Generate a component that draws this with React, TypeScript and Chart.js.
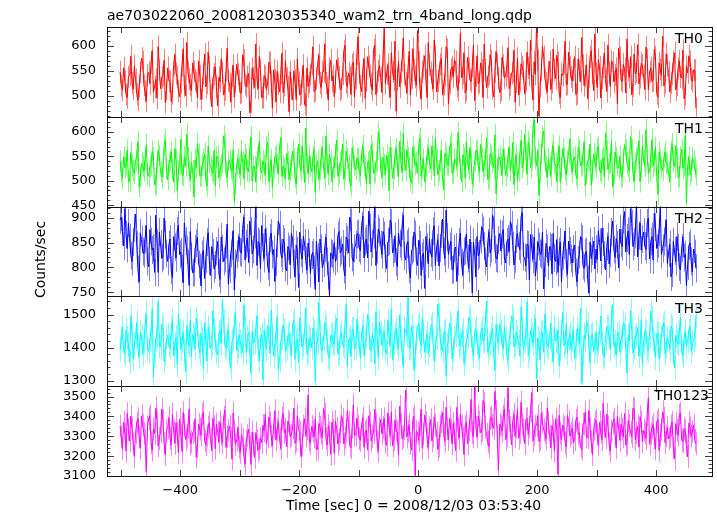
import React, { useEffect, useRef } from "react";
import { Chart, registerables } from "chart.js";

Chart.register(...registerables);

const TITLE = "ae703022060_20081203035340_wam2_trn_4band_long.qdp";
const X_TITLE = "Time [sec] 0 = 2008/12/03 03:53:40";
const Y_TITLE = "Counts/sec";
const FONT = "'DejaVu Sans', sans-serif";

const TIME_START = -501;
const TIME_END = 467;
const X_MIN = -523;
const X_MAX = 494;
const X_LABEL_TICKS = [-400, -200, 0, 200, 400];
const X_MINOR_STEP = 100;

const bandNames = ["TH0", "TH1", "TH2", "TH3", "TH0123"];

// samples on the whole-step grid
const th0 = [
  548, 512, 530, 497, 541, 526, 560, 503, 519, 575,
  522, 490, 547, 566, 508, 533, 598, 515, 541, 487,
  556, 529, 505, 582, 538, 499, 561, 520, 606, 534,
  511, 549, 527, 570, 493, 544, 518, 587, 502, 536,
  558, 481, 529, 547, 512, 595, 524, 540, 498, 563,
  530, 507, 571, 519, 545, 488, 536, 603, 515, 552,
  497, 538, 524, 566, 476, 532, 549, 508, 585, 521,
  535, 469, 514, 550, 493, 527, 505, 561, 480, 519,
  542, 598, 511, 563, 526, 548, 604, 517, 555, 530,
  499, 572, 538, 515, 589, 527, 546, 503, 567, 535,
  618, 521, 553, 496, 578, 540, 512, 601, 529, 561,
  507, 636, 544, 519, 586, 532, 470, 569, 548, 615,
  526, 557, 502, 594, 538, 630, 515, 548, 580, 497,
  562, 531, 611, 508, 547, 575, 523, 598, 484, 553,
  539, 568, 512, 624, 545, 506, 577, 533, 559, 491,
  580, 528, 551, 603, 517, 544, 570, 499, 589, 536,
  512, 561, 540, 596, 523, 549, 488, 575, 531, 558,
  504, 587, 542, 520, 568, 637, 460, 552, 579, 526,
  548, 513, 593, 535, 566, 497, 541, 609, 524, 557,
  530, 578, 505, 549, 616, 521, 562, 538, 590, 511,
  545, 572, 496, 558, 533, 601, 519, 567, 542, 485,
  576, 529, 554, 613, 537, 503, 583, 548, 524, 565,
  540, 597, 512, 556, 531, 578, 498, 553, 619, 527,
  561, 508, 544, 586, 522, 570, 536, 495, 559, 580,
  534, 552, 476,
];
// samples on the half-step grid
const th0b = [
  521, 556, 503, 538, 579, 514, 533, 492, 547, 568,
  509, 541, 525, 590, 518, 496, 552, 537, 571, 513,
  530, 489, 563, 545, 510, 527, 594, 501, 548, 522,
  566, 532, 497, 540, 515, 583, 526, 558, 479, 543,
  519, 537, 573, 502, 551, 530, 488, 561, 528, 544,
  506, 582, 523, 539, 467, 555, 517, 534, 578, 497,
  541, 513, 567, 529, 552, 488, 524, 545, 507, 570,
  518, 548, 493, 531, 574, 502, 539, 484, 556, 527,
  563, 509, 535, 581, 517, 549, 526, 492, 571, 540,
  528, 555, 512, 544, 601, 519, 537, 562, 498, 583,
  546, 509, 574, 531, 559, 524, 592, 503, 550, 537,
  581, 525, 562, 497, 548, 609, 534, 518, 571, 543,
  506, 589, 536, 552, 521, 567, 495, 559, 532, 606,
  547, 514, 579, 530, 563, 502, 541, 592, 526, 558,
  571, 519, 548, 536, 586, 511, 553, 529, 601, 540,
  524, 566, 497, 552, 539, 582, 515, 548, 563, 507,
  577, 536, 558, 515, 545, 591, 528, 502, 564, 549,
  531, 556, 611, 492, 543, 572, 519, 598, 535, 508,
  569, 527, 552, 581, 506, 544, 565, 522, 587, 538,
  552, 503, 574, 529, 561, 540, 495, 578, 546, 623,
  517, 558, 536, 586, 509, 547, 570, 528, 555, 595,
  532, 563, 506, 551, 578, 520, 544, 602, 537, 561,
  513, 572, 548, 529, 593, 505, 566, 541, 520, 584,
  547, 526, 569, 512, 555, 538, 591, 503, 546, 568,
  529, 551,
];

const th1 = [
  540, 505, 527, 563, 498, 531, 515, 552, 488, 536,
  520, 574, 509, 533, 547, 495, 562, 518, 529, 583,
  502, 541, 524, 566, 480, 535, 512, 549, 596, 521,
  538, 467, 527, 555, 510, 544, 501, 571, 530, 516,
  489, 550, 523, 537, 575, 506, 542, 519, 458, 533,
  527, 561, 504, 545, 518, 590, 530, 497, 552, 523,
  541, 512, 579, 528, 486, 548, 534, 569, 509, 525,
  556, 502, 531, 544, 493, 575, 520, 537, 608, 514,
  530, 549, 476, 541, 523, 568, 505, 535, 554, 498,
  527, 583, 516, 540, 503, 561, 532, 489, 550, 522,
  545, 510, 572, 528, 537, 493, 559, 518, 541, 584,
  507, 533, 552, 479, 546, 524, 566, 511, 538, 597,
  521, 548, 502, 569, 533, 515, 587, 526, 498, 553,
  539, 571, 510, 544, 520, 563, 482, 549, 531, 577,
  516, 542, 599, 525, 553, 505, 535, 568, 493, 540,
  562, 518, 546, 530, 588, 507, 551, 527, 473, 544,
  532, 565, 511, 548, 520, 579, 536, 501, 557, 526,
  595, 513, 568, 542, 624, 531, 470, 556, 602, 528,
  545, 511, 573, 534, 552, 497, 566, 522, 540, 586,
  518, 549, 504, 561, 533, 580, 514, 543, 491, 555,
  529, 570, 516, 547, 598, 523, 538, 487, 559, 531,
  550, 508, 574, 536, 519, 563, 499, 545, 582, 527,
  541, 605, 515, 552, 530, 568, 472, 543, 521, 559,
  535, 498, 576, 528, 547, 509, 564, 532, 455, 549,
  520, 541, 512,
];
const th1b = [
  517, 549, 533, 499, 558, 521, 541, 580, 506, 530,
  544, 513, 528, 560, 491, 537, 552, 507, 572, 525,
  536, 559, 497, 542, 519, 585, 511, 530, 548, 503,
  520, 543, 576, 509, 531, 556, 489, 538, 521, 562,
  549, 506, 531, 592, 517, 540, 526, 563, 495, 545,
  512, 538, 554, 520, 565, 499, 529, 547, 581, 516,
  532, 570, 498, 543, 526, 552, 514, 588, 530, 504,
  539, 522, 561, 507, 546, 530, 571, 496, 535, 551,
  518, 564, 533, 502, 549, 527, 592, 513, 540, 528,
  553, 509, 538, 575, 521, 546, 498, 567, 532, 547,
  519, 556, 533, 494, 541, 572, 515, 538, 600, 526,
  548, 513, 537, 569, 505, 552, 530, 581, 519, 542,
  563, 527, 495, 550, 538, 574, 509, 545, 529, 566,
  524, 551, 586, 512, 540, 503, 557, 533, 570, 516,
  545, 529, 561, 498, 548, 579, 522, 539, 508, 562,
  531, 574, 518, 543, 502, 556, 537, 594, 525, 549,
  511, 545, 529, 568, 536, 492, 553, 520, 583, 539,
  552, 580, 527, 611, 545, 563, 518, 590, 540, 507,
  528, 560, 535, 497, 571, 526, 548, 512, 557, 533,
  546, 512, 569, 530, 552, 489, 541, 575, 520, 538,
  565, 521, 543, 507, 560, 535, 582, 515, 547, 525,
  509, 544, 563, 528, 590, 517, 538, 556, 498, 572,
  530, 553, 519, 584, 541, 509, 559, 527, 547, 536,
  518, 561, 540, 572, 506, 549, 525, 593, 531, 512,
  547, 528,
];

const th2 = [
  895, 872, 918, 838, 860, 812, 879, 845, 771, 856,
  828, 884, 801, 852, 839, 905, 790, 847, 823, 866,
  812, 857, 780, 841, 873, 826, 798, 889, 835, 764,
  822, 791, 848, 806, 763, 834, 817, 870, 784, 829,
  805, 852, 776, 838, 818, 887, 797, 843, 755, 826,
  862, 829, 901, 847, 810, 873, 836, 925, 852, 798,
  840, 877, 803, 859, 826, 772, 848, 885, 819, 851,
  793, 836, 868, 808, 845, 760, 829, 862, 814, 849,
  788, 830, 756, 821, 857, 799, 839, 812, 744, 827,
  850, 818, 872, 834, 796, 861, 829, 890, 812, 845,
  868, 834, 903, 852, 819, 880, 847, 928, 836, 871,
  826, 864, 798, 853, 889, 837, 811, 869, 842, 905,
  815, 852, 779, 838, 866, 804, 845, 823, 758, 840,
  858, 821, 884, 839, 803, 867, 832, 915, 826, 852,
  796, 841, 812, 869, 785, 834, 818, 857, 749, 829,
  862, 827, 881, 843, 801, 872, 838, 898, 819, 855,
  833, 876, 809, 857, 892, 844, 817, 869, 836, 910,
  820, 847, 775, 838, 861, 801, 842, 826, 757, 848,
  803, 839, 868, 812, 790, 851, 824, 873, 786, 834,
  809, 845, 771, 826, 857, 798, 832, 749, 818, 853,
  837, 874, 813, 851, 795, 862, 829, 893, 820, 846,
  877, 842, 912, 859, 826, 888, 851, 930, 864, 835,
  871, 836, 899, 852, 815, 881, 847, 924, 838, 869,
  808, 846, 789, 833, 862, 801, 839, 820, 764, 843,
  812, 837, 798,
];
const th2b = [
  901, 843, 866, 889, 824, 851, 907, 796, 869, 832,
  857, 812, 876, 835, 790, 849, 871, 818, 899, 828,
  846, 794, 862, 819, 885, 831, 769, 853, 808, 872,
  789, 837, 861, 800, 826, 778, 851, 813, 842, 797,
  833, 789, 861, 812, 846, 767, 828, 874, 808, 840,
  831, 878, 815, 859, 893, 827, 866, 804, 848, 884,
  818, 852, 790, 869, 836, 811, 893, 829, 857, 800,
  842, 805, 857, 781, 833, 871, 817, 849, 795, 830,
  825, 796, 853, 771, 838, 809, 861, 784, 829, 817,
  812, 864, 829, 847, 783, 855, 901, 820, 838, 866,
  839, 884, 819, 857, 913, 831, 866, 804, 877, 846,
  872, 818, 851, 895, 829, 862, 802, 848, 883, 823,
  847, 796, 834, 871, 812, 855, 784, 829, 862, 807,
  829, 873, 804, 856, 839, 897, 818, 861, 842, 795,
  838, 772, 851, 809, 832, 867, 798, 823, 851, 781,
  823, 856, 874, 812, 849, 829, 905, 836, 817, 868,
  866, 819, 851, 832, 885, 805, 857, 843, 901, 822,
  803, 845, 866, 816, 783, 852, 828, 871, 809, 838,
  842, 787, 819, 856, 832, 771, 845, 809, 853, 818,
  837, 790, 815, 862, 804, 829, 776, 851, 833, 797,
  816, 850, 879, 825, 842, 807, 871, 836, 858, 799,
  849, 896, 831, 873, 918, 842, 866, 821, 889, 857,
  843, 889, 817, 862, 908, 838, 871, 826, 852, 895,
  829, 781, 852, 812, 840, 795, 861, 826, 803, 849,
  791, 828,
];

const th3 = [
  1395, 1462, 1381, 1428, 1357, 1441, 1409, 1476, 1372, 1433,
  1418, 1505, 1389, 1447, 1310, 1426, 1540, 1401, 1455, 1382,
  1437, 1398, 1481, 1414, 1349, 1452, 1421, 1390, 1467, 1405,
  1373, 1429, 1488, 1402, 1444, 1336, 1419, 1461, 1397, 1512,
  1425, 1378, 1450, 1547, 1406, 1433, 1362, 1418, 1470, 1391,
  1439, 1404, 1529, 1385, 1446, 1322, 1412, 1458, 1393, 1427,
  1301, 1415, 1468, 1383, 1436, 1407, 1494, 1362, 1429, 1451,
  1398, 1443, 1376, 1482, 1419, 1353, 1438, 1408, 1520, 1389,
  1426, 1459, 1297, 1413, 1447, 1394, 1476, 1420, 1367, 1435,
  1411, 1489, 1384, 1444, 1403, 1531, 1422, 1373, 1456, 1399,
  1432, 1368, 1465, 1417, 1501, 1392, 1440, 1351, 1424, 1478,
  1406, 1449, 1380, 1437, 1518, 1413, 1458, 1395, 1427, 1341,
  1452, 1553, 1398, 1433, 1376, 1464, 1419, 1490, 1386, 1442,
  1408, 1471, 1359, 1428, 1497, 1402, 1445, 1315, 1421, 1460,
  1393, 1437, 1512, 1411, 1452, 1378, 1430, 1483, 1399, 1446,
  1415, 1368, 1459, 1425, 1541, 1404, 1438, 1382, 1470, 1413,
  1450, 1397, 1428, 1361, 1443, 1487, 1409, 1432, 1374, 1455,
  1418, 1539, 1391, 1436, 1465, 1305, 1412, 1448, 1385, 1429,
  1402, 1474, 1357, 1421, 1451, 1394, 1507, 1416, 1383, 1440,
  1427, 1368, 1456, 1413, 1292, 1437, 1479, 1400, 1434, 1388,
  1445, 1412, 1496, 1379, 1428, 1462, 1395, 1530, 1417, 1441,
  1386, 1432, 1469, 1323, 1420, 1455, 1401, 1438, 1374, 1483,
  1414, 1447, 1392, 1510, 1426, 1369, 1443, 1405, 1466, 1381,
  1430, 1397, 1458, 1338, 1419, 1445, 1386, 1428, 1404, 1451,
  1390, 1423, 1497,
];
const th3b = [
  1427, 1388, 1453, 1411, 1496, 1365, 1432, 1402, 1447, 1379,
  1464, 1396, 1422, 1518, 1385, 1437, 1404, 1471, 1358, 1429,
  1409, 1458, 1374, 1431, 1502, 1393, 1446, 1327, 1418, 1483,
  1441, 1397, 1466, 1384, 1423, 1475, 1359, 1436, 1410, 1452,
  1386, 1444, 1412, 1479, 1398, 1455, 1339, 1427, 1505, 1403,
  1418, 1385, 1462, 1431, 1377, 1448, 1416, 1497, 1360, 1440,
  1452, 1395, 1428, 1514, 1374, 1441, 1333, 1419, 1468, 1388,
  1437, 1409, 1471, 1364, 1426, 1492, 1401, 1445, 1380, 1432,
  1399, 1448, 1416, 1537, 1391, 1426, 1460, 1372, 1438, 1414,
  1465, 1380, 1436, 1409, 1474, 1345, 1429, 1455, 1397, 1486,
  1413, 1447, 1376, 1435, 1460, 1391, 1423, 1509, 1370, 1444,
  1425, 1392, 1484, 1406, 1362, 1441, 1417, 1499, 1385, 1459,
  1437, 1398, 1465, 1331, 1428, 1472, 1405, 1446, 1419, 1382,
  1461, 1416, 1395, 1532, 1427, 1388, 1451, 1409, 1474, 1366,
  1428, 1466, 1404, 1439, 1352, 1419, 1492, 1433, 1376, 1457,
  1397, 1443, 1420, 1479, 1385, 1414, 1458, 1330, 1432, 1471,
  1408, 1463, 1381, 1425, 1496, 1401, 1447, 1418, 1523, 1392,
  1440, 1376, 1452, 1413, 1487, 1429, 1363, 1445, 1501, 1407,
  1431, 1389, 1462, 1420, 1345, 1448, 1406, 1473, 1427, 1394,
  1456, 1402, 1437, 1519, 1381, 1425, 1468, 1354, 1441, 1413,
  1389, 1451, 1418, 1371, 1463, 1432, 1491, 1404, 1377, 1446,
  1422, 1476, 1395, 1438, 1512, 1383, 1429, 1461, 1408, 1349,
  1451, 1398, 1434, 1486, 1412, 1443, 1364, 1427, 1475, 1402,
  1419, 1466, 1383, 1437, 1411, 1492, 1376, 1448, 1421, 1462,
  1415, 1438,
];

const th0123 = [
  3352, 3238, 3310, 3415, 3276, 3341, 3198, 3367, 3294, 3402,
  3315, 3122, 3389, 3268, 3336, 3443, 3251, 3323, 3378, 3207,
  3344, 3289, 3412, 3263, 3318, 3386, 3225, 3356, 3301, 3438,
  3272, 3329, 3195, 3361, 3305, 3420, 3258, 3347, 3283, 3391,
  3237, 3319, 3374, 3266, 3432, 3298, 3352, 3184, 3327, 3281,
  3246, 3309, 3201, 3275, 3336, 3158, 3262, 3318, 3229, 3290,
  3355, 3412, 3297, 3368, 3251, 3429, 3334, 3286, 3390, 3318,
  3247, 3363, 3305, 3441, 3279, 3332, 3198, 3351, 3300, 3508,
  3264, 3326, 3388, 3235, 3347, 3293, 3412, 3256, 3318, 3372,
  3213, 3339, 3287, 3404, 3261, 3325, 3369, 3242, 3458, 3306,
  3351, 3279, 3394, 3322, 3230, 3367, 3298, 3436, 3271, 3340,
  3312, 3389, 3254, 3346, 3421, 3283, 3333, 3205, 3360, 3297,
  3532, 3326, 3264, 3385, 3102, 3317, 3358, 3239, 3406, 3291,
  3343, 3276, 3398, 3315, 3251, 3372, 3307, 3446, 3282, 3329,
  3364, 3228, 3337, 3410, 3293, 3352, 3262, 3381, 3318, 3554,
  3296, 3373, 3331, 3467, 3310, 3248, 3395, 3339, 3425, 3128,
  3352, 3401, 3283, 3544, 3345, 3376, 3299, 3438, 3320, 3362,
  3263, 3391, 3347, 3520, 3308, 3354, 3275, 3416, 3333, 3287,
  3370, 3241, 3329, 3388, 3108, 3316, 3357, 3269, 3405, 3300,
  3341, 3282, 3396, 3318, 3233, 3362, 3297, 3429, 3273, 3335,
  3380, 3257, 3321, 3467, 3294, 3348, 3226, 3366, 3310, 3402,
  3279, 3336, 3415, 3264, 3352, 3298, 3437, 3318, 3245, 3371,
  3330, 3289, 3494, 3312, 3358, 3236, 3384, 3305, 3423, 3268,
  3345, 3297, 3372, 3186, 3331, 3406, 3279, 3340, 3254, 3367,
  3301, 3356, 3262,
];
const th0123b = [
  3297, 3371, 3225, 3334, 3402, 3262, 3318, 3389, 3241, 3356,
  3281, 3347, 3404, 3230, 3312, 3375, 3289, 3437, 3266, 3329,
  3392, 3255, 3327, 3368, 3219, 3305, 3420, 3284, 3346, 3261,
  3318, 3385, 3243, 3336, 3410, 3279, 3302, 3367, 3228, 3349,
  3362, 3271, 3309, 3395, 3244, 3331, 3288, 3417, 3259, 3345,
  3218, 3284, 3162, 3305, 3247, 3321, 3193, 3279, 3236, 3268,
  3327, 3263, 3398, 3301, 3346, 3280, 3374, 3239, 3415, 3336,
  3377, 3296, 3342, 3264, 3403, 3319, 3256, 3389, 3337, 3282,
  3349, 3296, 3231, 3365, 3317, 3440, 3289, 3354, 3208, 3331,
  3375, 3260, 3321, 3386, 3295, 3428, 3252, 3343, 3306, 3391,
  3288, 3357, 3244, 3331, 3403, 3276, 3318, 3362, 3225, 3384,
  3346, 3270, 3417, 3305, 3252, 3380, 3321, 3451, 3287, 3337,
  3296, 3359, 3230, 3402, 3325, 3279, 3438, 3311, 3367, 3243,
  3384, 3301, 3356, 3233, 3349, 3420, 3275, 3338, 3392, 3262,
  3318, 3445, 3290, 3352, 3207, 3371, 3329, 3486, 3296, 3344,
  3402, 3317, 3480, 3345, 3273, 3389, 3356, 3526, 3302, 3361,
  3325, 3437, 3301, 3379, 3256, 3410, 3348, 3290, 3471, 3333,
  3385, 3309, 3428, 3276, 3351, 3402, 3287, 3369, 3318, 3441,
  3298, 3354, 3226, 3332, 3405, 3281, 3343, 3247, 3376, 3315,
  3266, 3381, 3310, 3249, 3362, 3422, 3291, 3335, 3207, 3368,
  3309, 3370, 3283, 3348, 3412, 3262, 3325, 3386, 3241, 3339,
  3361, 3296, 3254, 3379, 3321, 3442, 3284, 3350, 3398, 3273,
  3317, 3405, 3260, 3343, 3288, 3372, 3229, 3336, 3391, 3302,
  3286, 3352, 3239, 3364, 3305, 3418, 3272, 3326, 3197, 3345,
  3322, 3280,
];

const bandSeries = [th0, th1, th2, th3, th0123];
const bandSeriesHalf = [th0b, th1b, th2b, th3b, th0123b];
const bandErrors = [22, 22, 28, 37, 57];
const bandMin = [459, 447, 742, 1283, 3100];
const bandMax = [637, 631, 922, 1555, 3552];
const bandTicks = [
  [500, 550, 600],
  [450, 500, 550, 600],
  [750, 800, 850, 900],
  [1300, 1400, 1500],
  [3100, 3200, 3300, 3400, 3500],
];
const bandMinorStep = [10, 10, 10, 20, 20];
const bandColors = ["#ff0000", "#00ff00", "#0000ff", "#00ffff", "#ff00ff"];
const bandErrColors = [
  "rgba(255,0,0,0.5)",
  "rgba(0,255,0,0.5)",
  "rgba(0,0,255,0.5)",
  "rgba(0,255,255,0.5)",
  "rgba(255,0,255,0.5)",
];
// label placement: right edge offset from plot right, baseline offset from panel top
const bandLabelRight = [9, 9, 9, 9, 3];
const bandLabelBase = [16, 16.5, 16.5, 16.5, 14];

const fmtNum = (v: number) => (v < 0 ? "\u2212" + Math.abs(v) : String(v));

const decorPlugin = {
  id: "qdpDecor",
  beforeDatasetDraw(chart: any, args: any) {
    const i = args.index;
    const meta = args.meta;
    const ys = meta.yScale;
    const xs = meta.xScale;
    const ca = chart.chartArea;
    const ctx = chart.ctx;
    ctx.save();
    ctx.beginPath();
    ctx.rect(ca.left, ys.top, ca.right - ca.left, ys.bottom - ys.top);
    ctx.clip();
    const err = bandErrors[i];
    ctx.strokeStyle = bandErrColors[i];
    ctx.lineWidth = 1;
    ctx.beginPath();
    for (const p of chart.data.datasets[i].data) {
      const px = Math.round(xs.getPixelForValue(p.x)) + 0.5;
      ctx.moveTo(px, ys.getPixelForValue(p.y - err));
      ctx.lineTo(px, ys.getPixelForValue(p.y + err));
    }
    ctx.stroke();
  },
  afterDatasetDraw(chart: any) {
    chart.ctx.restore();
  },
  afterDraw(chart: any) {
    const ctx = chart.ctx;
    const ca = chart.chartArea;
    const xs = chart.scales.x;
    ctx.save();
    ctx.lineWidth = 1;
    bandNames.forEach((name, i) => {
      const ys = chart.scales["y" + i];
      const top = Math.round(ys.top);
      const bottom = Math.round(ys.bottom);
      ctx.strokeStyle = "#444";
      ctx.beginPath();
      const step = bandMinorStep[i];
      for (let v = Math.ceil(bandMin[i] / step) * step; v <= bandMax[i]; v += step) {
        const py = Math.round(ys.getPixelForValue(v)) + 0.5;
        const major = bandTicks[i].includes(v);
        const len = major ? 7 : 3.5;
        ctx.moveTo(ca.left, py);
        ctx.lineTo(ca.left + len, py);
        ctx.moveTo(ca.right, py);
        ctx.lineTo(ca.right - len, py);
      }
      for (let v = Math.ceil(X_MIN / X_MINOR_STEP) * X_MINOR_STEP; v <= X_MAX; v += X_MINOR_STEP) {
        const px = Math.round(xs.getPixelForValue(v)) + 0.5;
        ctx.moveTo(px, top);
        ctx.lineTo(px, top + 6);
        ctx.moveTo(px, bottom);
        ctx.lineTo(px, bottom - 6);
      }
      ctx.stroke();
      ctx.strokeStyle = "#111";
      ctx.strokeRect(Math.round(ca.left) + 0.5, top + 0.5, Math.round(ca.right - ca.left), bottom - top);
      ctx.fillStyle = "#000";
      ctx.font = "14px " + FONT;
      ctx.textAlign = "right";
      ctx.textBaseline = "alphabetic";
      ctx.fillText(name, ca.right - bandLabelRight[i], ys.top + bandLabelBase[i]);
    });
    ctx.fillStyle = "#000";
    ctx.font = "14px " + FONT;
    ctx.textAlign = "left";
    ctx.textBaseline = "alphabetic";
    ctx.fillText(TITLE, ca.left, ca.top - 7);
    ctx.textAlign = "center";
    ctx.fillText(X_TITLE, (ca.left + ca.right) / 2 + 4, ca.bottom + 34);
    ctx.save();
    ctx.translate(41, (ca.top + ca.bottom) / 2 + 8);
    ctx.rotate(-Math.PI / 2);
    ctx.textAlign = "center";
    ctx.textBaseline = "middle";
    ctx.fillText(Y_TITLE, 0, 0);
    ctx.restore();
    ctx.restore();
  },
};

export default function App() {
  const ref = useRef<HTMLCanvasElement>(null);
  useEffect(() => {
    document.body.style.margin = "0";
    const scales: any = {
      x: {
        type: "linear",
        position: "bottom",
        min: X_MIN,
        max: X_MAX,
        grid: { display: false, drawTicks: false },
        border: { display: false },
        ticks: {
          autoSkip: false,
          maxRotation: 0,
          padding: 7,
          color: "#000",
          font: { family: FONT, size: 13 },
          callback: (v: any) => fmtNum(Number(v)),
        },
        afterBuildTicks: (s: any) => {
          s.ticks = X_LABEL_TICKS.map((v) => ({ value: v }));
        },
        afterFit: (s: any) => {
          s.height = 40;
        },
      },
    };
    bandNames.forEach((_, i) => {
      scales["y" + i] = {
        type: "linear",
        position: "left",
        stack: "panels",
        stackWeight: 1,
        weight: 10 - i,
        min: bandMin[i],
        max: bandMax[i],
        grid: { display: false, drawTicks: false },
        border: { display: false },
        ticks: {
          autoSkip: false,
          padding: 11,
          color: "#000",
          font: { family: FONT, size: 13 },
          callback: (v: any) => fmtNum(Number(v)),
        },
        afterBuildTicks: (s: any) => {
          s.ticks = bandTicks[i].map((v) => ({ value: v }));
        },
        afterFit: (s: any) => {
          s.width = 107;
        },
      };
    });
    const datasets = bandSeries.map((vals, i) => {
      const half = bandSeriesHalf[i];
      const dt = (TIME_END - TIME_START) / (vals.length - 1);
      const pts: { x: number; y: number }[] = [];
      vals.forEach((v, j) => {
        pts.push({ x: TIME_START + j * dt, y: v });
        if (j < half.length) pts.push({ x: TIME_START + (j + 0.5) * dt, y: half[j] });
      });
      return {
        label: bandNames[i],
        data: pts,
        yAxisID: "y" + i,
        xAxisID: "x",
        borderColor: bandColors[i],
        backgroundColor: bandColors[i],
        borderWidth: 1,
        pointRadius: 0,
        fill: false,
        tension: 0,
      };
    });
    const chart = new Chart(ref.current as HTMLCanvasElement, {
      type: "line",
      data: { datasets },
      options: {
        animation: false,
        responsive: false,
        devicePixelRatio: 1,
        parsing: false,
        layout: { padding: { top: 27, right: 5, bottom: 0, left: 0 } },
        plugins: {
          legend: { display: false },
          tooltip: { enabled: false },
          title: { display: false },
        },
        scales,
      } as any,
      plugins: [decorPlugin],
    } as any);
    return () => chart.destroy();
  }, []);
  return (
    <div style={{ position: "absolute", left: 0, top: 0, width: 717, height: 516, background: "#fff" }}>
      <canvas ref={ref} width={717} height={516} style={{ display: "block" }} />
    </div>
  );
}
